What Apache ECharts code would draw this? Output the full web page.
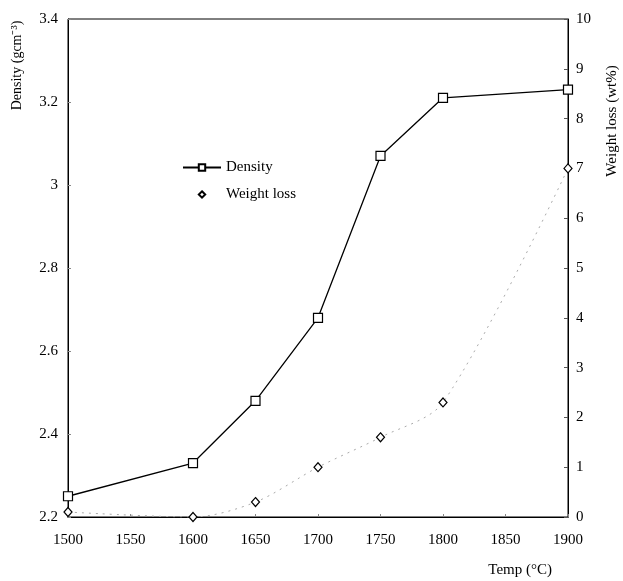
<!DOCTYPE html>
<html>
<head>
<meta charset="utf-8">
<script src="https://cdn.jsdelivr.net/npm/echarts@6/dist/echarts.min.js"></script>
<style>
    html, body { margin: 0; padding: 0; background: #fff; }
    #chart { width: 623px; height: 581px; }
</style>
</head>
<body>
<div id="chart"></div>
<script>
    // values
    let temps = [1500, 1600, 1650, 1700, 1750, 1800, 1900]
    let density = [2.25, 2.33, 2.48, 2.68, 3.07, 3.21, 3.23]
    let weightLoss = [0.1, 0, 0.3, 1.0, 1.6, 2.3, 7.0]

    let font = 'Liberation Serif'

    let densityData = temps.map((t, i) => [t, density[i]])
    let lossData = temps.map((t, i) => [t, weightLoss[i]])

    let chart = echarts.init(document.getElementById('chart'))
    let option = {
        backgroundColor: '#fff',
        animation: false,
        textStyle: { fontFamily: font, color: '#000' },
        grid: {
            left: 68, right: 55, top: 19, bottom: 64,
            outerBoundsMode: 'none',
            show: true, borderColor: '#000', borderWidth: 1
        },
        legend: {
            orient: 'vertical',
            left: 177, top: 155,
            itemWidth: 38, itemHeight: 8, itemGap: 12,
            textStyle: { fontFamily: font, fontSize: 15, color: '#000' },
            data: [
                { name: 'Density' },
                { name: 'Weight loss', lineStyle: { opacity: 0 } }
            ]
        },
        xAxis: {
            type: 'value',
            min: 1500, max: 1900, interval: 50,
            name: 'Temp (°C)',
            nameLocation: 'end',
            nameGap: 0,
            nameTextStyle: {
                fontFamily: font, fontSize: 15, color: '#000',
                align: 'right', verticalAlign: 'top',
                padding: [46, 16, 0, 0]
            },
            axisLine: { lineStyle: { color: '#000' } },
            axisTick: { inside: true, length: 3, lineStyle: { color: '#888' } },
            axisLabel: {
                fontFamily: font, fontSize: 15, color: '#000', margin: 16,
                formatter: v => String(v)
            },
            splitLine: { show: false }
        },
        yAxis: [{
            type: 'value',
            min: 2.2, max: 3.4, interval: 0.2,
            name: 'Density (gcm⁻³)',
            nameLocation: 'middle',
            nameRotate: 90,
            nameGap: 44,
            nameTextStyle: {
                fontFamily: font, fontSize: 14, color: '#000',
                padding: [0, 0, 0, 405]
            },
            axisLine: { show: true, lineStyle: { color: '#000' } },
            axisTick: { show: true, inside: true, length: 3, lineStyle: { color: '#888' } },
            axisLabel: {
                fontFamily: font, fontSize: 15, color: '#000', margin: 10,
                formatter: v => +v.toFixed(1) + ''
            },
            splitLine: { show: false }
        }, {
            type: 'value',
            min: 0, max: 10, interval: 1,
            position: 'right',
            name: 'Weight loss (wt%)',
            nameLocation: 'middle',
            nameRotate: 90,
            nameGap: 37,
            nameTextStyle: {
                fontFamily: font, fontSize: 15, color: '#000',
                padding: [0, 0, 0, 294]
            },
            axisLine: { show: true, lineStyle: { color: '#000' } },
            axisTick: { show: true, inside: true, length: 4, lineStyle: { color: '#555' } },
            axisLabel: { fontFamily: font, fontSize: 15, color: '#000', margin: 8 },
            splitLine: { show: false }
        }],
        series: [{
            name: 'Density',
            type: 'line',
            data: densityData,
            yAxisIndex: 0,
            symbol: 'rect',
            symbolSize: 9,
            itemStyle: { color: '#fff', borderColor: '#000', borderWidth: 1.2 },
            lineStyle: { color: '#000', width: 1.3 },
            z: 3
        }, {
            name: 'Weight loss',
            type: 'line',
            data: lossData,
            yAxisIndex: 1,
            smooth: 0.3,
            symbol: 'diamond',
            symbolSize: [8, 9],
            itemStyle: { color: '#fff', borderColor: '#000', borderWidth: 1.2 },
            lineStyle: { color: '#aaa', width: 1, type: [2, 5] },
            z: 2
        }]
    }
    chart.setOption(option)
</script>
</body>
</html>
